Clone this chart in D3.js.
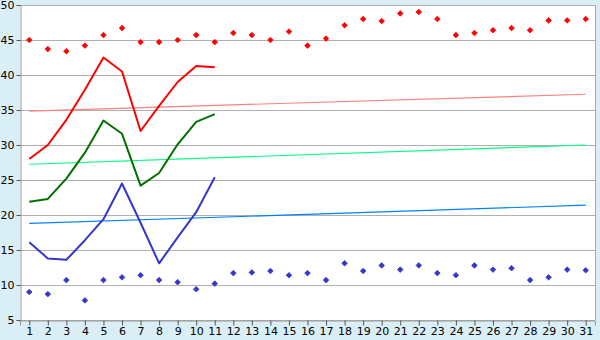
<!DOCTYPE html>
<html>
<head>
<meta charset="utf-8">
<script src="https://cdn.jsdelivr.net/npm/d3@7"></script>
<style>
  body { margin: 0; background: #daeef5; }
  svg { display: block; }
  .tick text { font-family: "DejaVu Sans", Verdana, sans-serif; font-size: 11px; fill: #000; }
</style>
</head>
<body>
<script>
// Day numbers along the x axis
const days = d3.range(1, 32);
const yTicks = [5, 10, 15, 20, 25, 30, 35, 40, 45, 50];

// Upper line series (days 1-11)
const redLine = [28.0, 30.0, 33.6, 37.9, 42.5, 40.5, 32.0, 35.6, 39.0, 41.3, 41.1];
const greenLine = [21.9, 22.3, 25.2, 28.9, 33.5, 31.6, 24.2, 26.0, 30.1, 33.3, 34.4];
const blueLine = [16.1, 13.8, 13.6, 16.4, 19.4, 24.5, 18.9, 13.1, 16.8, 20.4, 25.4];

// Scatter series (days 1-31)
const redPoints = [45.0, 43.7, 43.4, 44.2, 45.7, 46.7, 44.7, 44.7, 45.0, 45.7,
  44.7, 46.0, 45.7, 45.0, 46.2, 44.2, 45.2, 47.1, 48.0, 47.7,
  48.8, 49.0, 48.0, 45.7, 46.0, 46.4, 46.7, 46.4, 47.8, 47.8, 48.0];
const bluePoints = [9.0, 8.7, 10.7, 7.8, 10.7, 11.1, 11.4, 10.7, 10.4, 9.4,
  10.2, 11.7, 11.8, 12.0, 11.4, 11.7, 10.7, 13.1, 12.0, 12.8,
  12.2, 12.8, 11.7, 11.4, 12.8, 12.2, 12.4, 10.7, 11.1, 12.2, 12.1];

// Trend lines: value at day 1 and at day 31
const trendRed = [34.85, 37.25];
const trendGreen = [27.25, 30.0];
const trendBlue = [18.8, 21.4];

const width = 600, height = 340;
const plotLeft = 20, plotRight = 595, plotTop = 5, plotBottom = 320;

const svg = d3.select("body").append("svg")
  .attr("width", width)
  .attr("height", height);

const x = d3.scalePoint().domain(days).range([plotLeft, plotRight]).padding(0.5);
const y = d3.scaleLinear().domain([5, 50]).range([plotBottom, plotTop]);

// Plot background
svg.append("rect")
  .attr("x", plotLeft).attr("y", plotTop)
  .attr("width", plotRight - plotLeft).attr("height", plotBottom - plotTop)
  .attr("fill", "#fff");

// Gridlines
svg.append("g")
  .selectAll("line")
  .data(yTicks)
  .join("line")
  .attr("x1", plotLeft).attr("x2", plotRight)
  .attr("y1", d => Math.round(y(d)) + 0.5)
  .attr("y2", d => Math.round(y(d)) + 0.5)
  .attr("stroke", "#b0b0b0");

// Right border
svg.append("line")
  .attr("x1", plotRight + 0.5).attr("x2", plotRight + 0.5)
  .attr("y1", plotTop).attr("y2", plotBottom)
  .attr("stroke", "#a8a8a8");

// Axes
const xAxis = svg.append("g")
  .attr("transform", `translate(0,${Math.round(plotBottom) + 0.5})`)
  .call(d3.axisBottom(x).tickSize(5).tickPadding(2));
const yAxis = svg.append("g")
  .attr("transform", `translate(${plotLeft + 0.5},0)`)
  .call(d3.axisLeft(y).tickValues(yTicks).tickSize(4).tickPadding(2));
[xAxis, yAxis].forEach(g => {
  g.select(".domain").attr("stroke", "#999");
  g.selectAll(".tick line").attr("stroke", "#555");
});

// Trend lines
[[trendRed, "#ff8080"], [trendGreen, "#00ff80"], [trendBlue, "#0080ff"]].forEach(([t, c]) => {
  svg.append("line")
    .attr("x1", x(1)).attr("y1", y(t[0]))
    .attr("x2", x(31)).attr("y2", y(t[1]))
    .attr("stroke", c)
    .attr("stroke-width", 1.2);
});

// Line series
const line = d3.line().x((d, i) => x(days[i])).y(d => y(d));
[[redLine, "#ff0000"], [greenLine, "#007000"], [blueLine, "#3636cc"]].forEach(([s, c]) => {
  svg.append("path")
    .datum(s)
    .attr("d", line)
    .attr("fill", "none")
    .attr("stroke", c)
    .attr("stroke-width", 2)
    .attr("stroke-linejoin", "round");
});

// Scatter series
const diamond = d3.symbol().type(d3.symbolDiamond2 || d3.symbolDiamond).size(20);
[[redPoints, "#ff0000"], [bluePoints, "#3636cc"]].forEach(([s, c]) => {
  svg.append("g")
    .selectAll("path")
    .data(s)
    .join("path")
    .attr("transform", (d, i) => `translate(${x(days[i])},${y(d)})`)
    .attr("d", diamond)
    .attr("fill", c)
    .attr("stroke", c)
    .attr("stroke-width", 0.8);
});
</script>
</body>
</html>
